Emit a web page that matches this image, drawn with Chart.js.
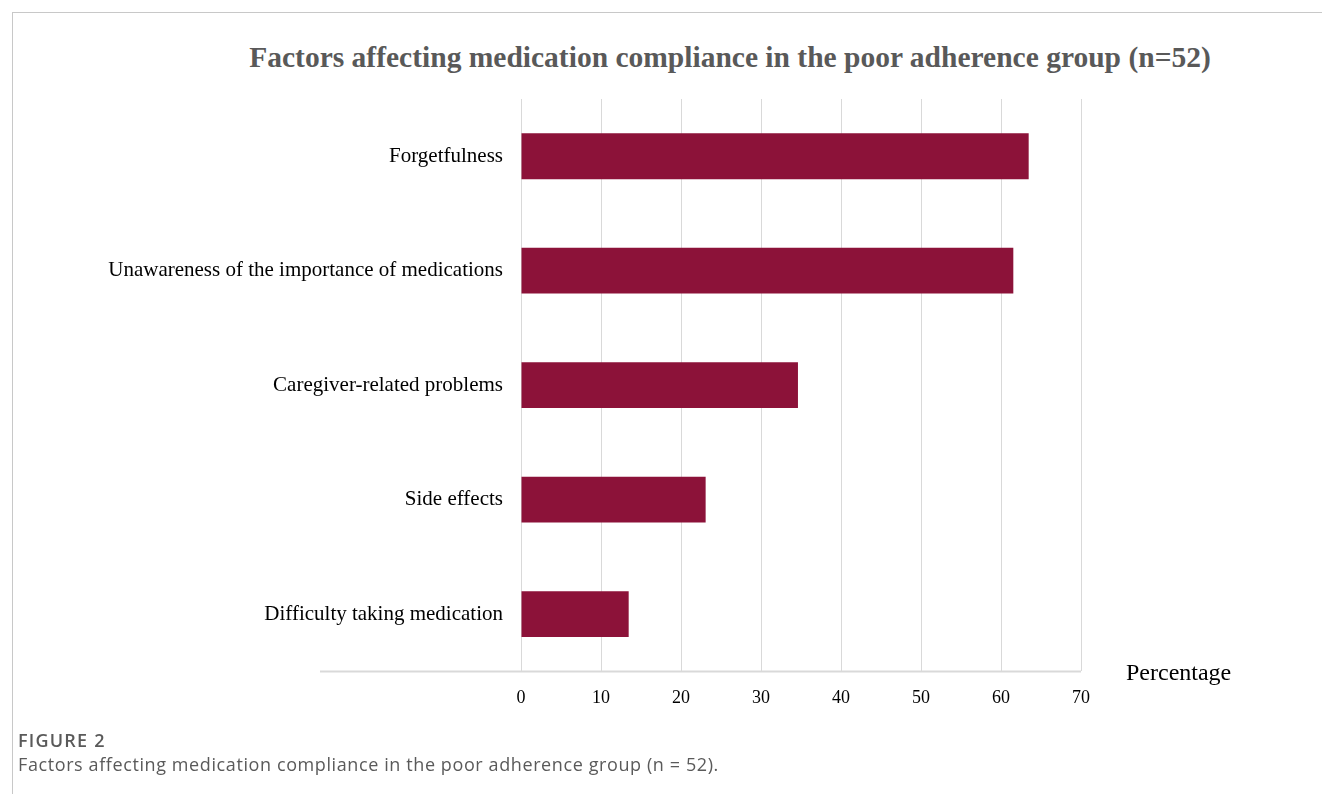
<!DOCTYPE html>
<html>
<head>
<meta charset="utf-8">
<script src="https://cdn.jsdelivr.net/npm/chart.js@4"></script>
<style>
    html, body { margin: 0; padding: 0; background: #fff; }
    body { width: 1322px; height: 794px; position: relative; overflow: hidden; }
    .frame {
        position: absolute; left: 12px; top: 12px; right: 0; bottom: 0;
        border-top: 1px solid #c8c8c8; border-left: 1px solid #c8c8c8;
    }
    .chart-title {
        position: absolute; left: 140px; width: 1180px; top: 39px;
        text-align: center; font-family: "Liberation Serif", "Times New Roman", serif;
        font-weight: bold; font-size: 29.5px; line-height: 36px; color: #595959;
    }
    .chart-box { position: absolute; left: 40px; top: 0; width: 1280px; height: 735px; }
    .caption { position: absolute; left: 18px; top: 728px; font-family: "Open Sans", sans-serif; color: #5a5a5a; }
    .caption .fig { font-size: 18px; font-weight: 600; line-height: 24px; letter-spacing: 1.2px; }
    .caption .txt { font-size: 18px; line-height: 24px; letter-spacing: 0.6px; }
</style>
</head>
<body>
<div class="frame"></div>
<div class="chart-title">Factors affecting medication compliance in the poor adherence group (n=52)</div>
<div class="chart-box"><canvas id="factorsChart"></canvas></div>
<div class="caption">
    <div class="fig">FIGURE 2</div>
    <div class="txt">Factors affecting medication compliance in the poor adherence group (n = 52).</div>
</div>
<script>
document.addEventListener('DOMContentLoaded', () => {
    const factors = [
        'Forgetfulness',
        'Unawareness of the importance of medications',
        'Caregiver-related problems',
        'Side effects',
        'Difficulty taking medication'
    ];
    const percentages = [63.46, 61.54, 34.62, 23.08, 13.46];
    const xTicks = [0, 10, 20, 30, 40, 50, 60, 70];

    const serif = '"Liberation Serif", "Times New Roman", serif';
    const gridGray = '#d9d9d9';

    // long baseline under the plot plus the "Percentage" label on the right
    const axisExtras = {
        id: 'axisExtras',
        afterDraw(chart) {
            const ctx = chart.ctx;
            const area = chart.chartArea;
            ctx.save();
            ctx.strokeStyle = gridGray;
            ctx.lineWidth = 2;
            ctx.beginPath();
            ctx.moveTo(area.left - 201, area.bottom);
            ctx.lineTo(area.right, area.bottom);
            ctx.stroke();
            ctx.fillStyle = '#000';
            ctx.font = '24px ' + serif;
            ctx.textAlign = 'left';
            ctx.textBaseline = 'middle';
            ctx.fillText('Percentage', area.right + 45, area.bottom + 2);
            ctx.restore();
        }
    };

    new Chart(document.getElementById('factorsChart'), {
        type: 'bar',
        data: {
            labels: factors,
            datasets: [{
                data: percentages,
                backgroundColor: '#8c1239',
                borderWidth: 0,
                barPercentage: 0.4,
                categoryPercentage: 1.0
            }]
        },
        options: {
            indexAxis: 'y',
            responsive: true,
            maintainAspectRatio: false,
            animation: false,
            layout: { padding: { top: 99, right: 239, bottom: 10 } },
            scales: {
                x: {
                    min: 0,
                    max: 70,
                    afterBuildTicks: (scale) => {
                        scale.ticks = xTicks.map(v => ({ value: v }));
                    },
                    grid: { color: gridGray, drawTicks: false },
                    border: { display: false },
                    ticks: {
                        color: '#000',
                        padding: 16,
                        font: { family: serif, size: 18 }
                    }
                },
                y: {
                    afterFit: (scale) => { scale.width = 481; },
                    grid: { display: false, drawTicks: false },
                    border: { display: false },
                    ticks: {
                        color: '#000',
                        padding: 18,
                        font: { family: serif, size: 21 }
                    }
                }
            },
            plugins: {
                legend: { display: false },
                tooltip: { enabled: false },
                title: { display: false }
            }
        },
        plugins: [axisExtras]
    });
});
</script>
</body>
</html>
